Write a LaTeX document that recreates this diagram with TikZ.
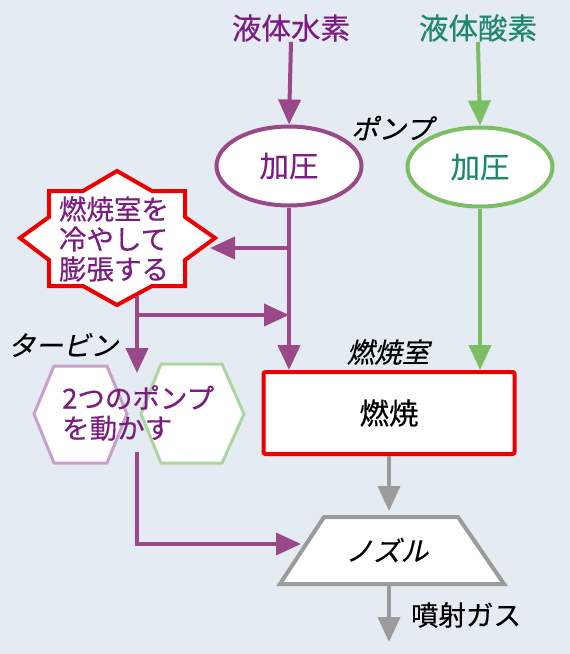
\documentclass[tikz,border=0pt]{standalone}
\usepackage{fontspec}
\setmainfont[FakeBold=0.4]{Noto Sans CJK JP}
\newfontfamily\jpslant[FakeSlant=0.22, FakeBold=0.4]{Noto Sans CJK JP}
\usetikzlibrary{arrows.meta, shapes.geometric}

\definecolor{bgblue}{RGB}{229,235,242}
\definecolor{hline}{RGB}{153,72,136}
\definecolor{htext}{RGB}{123,28,128}
\definecolor{oline}{RGB}{124,190,100}
\definecolor{otext}{RGB}{30,135,110}
\definecolor{hexh}{RGB}{200,160,200}
\definecolor{hexo}{RGB}{172,214,160}
\definecolor{nozgray}{RGB}{155,155,155}
\definecolor{hotred}{RGB}{236,0,0}

\begin{document}
\begin{tikzpicture}[x=1pt, y=-1pt,
    every node/.style={font=\fontsize{27.5}{30}\selectfont, inner sep=0pt},
    big/.style={font=\fontsize{29.5}{32}\selectfont},
    tip/.style={-{Triangle[width=22pt, length=25pt]}},
    hflow/.style={tip, line width=4pt, draw=hline},
    oflow/.style={tip, line width=4pt, draw=oline},
    gflow/.style={tip, line width=4pt, draw=nozgray},
    pump/.style={ellipse, big, fill=white, line width=4pt, minimum width=145pt, minimum height=79pt},
    tag/.style={font=\fontsize{27.5}{30}\jpslant}]
    \fill[bgblue] (0,0) rectangle (570,654);
    \useasboundingbox (0,0) rectangle (570,654);

    % tanks and pumps
    \node[big, text=htext] (lh2) at (291,28) {液体水素};
    \node[big, text=otext] (lox) at (478,28) {液体酸素};
    \node[pump, draw=hline, text=htext] (hpump) at (289,166) {加圧};
    \node[pump, draw=oline, text=otext] (opump) at (480,167) {加圧};
    \node[tag] (pumplbl) at (392,128) {ポンプ};

    % cooling jacket
    \draw[hotred, fill=white, line width=4pt, line join=miter]
        (117,171) -- (152,191) -- (185,191) -- (185,217) -- (215,238) -- (185,260)
        -- (185,286) -- (152,286) -- (117,305) -- (83,286) -- (49,286) -- (49,260)
        -- (20,238) -- (49,217) -- (49,191) -- (83,191) -- cycle;
    \node[text=htext, align=left] (cool) at (114,239) {燃焼室を\\冷やして\\膨張する};

    % turbine
    \draw[hexh, fill=white, line width=3pt] (34,414) -- (54,366) -- (107,366) -- (127,414)
        -- (107,463) -- (54,463) -- cycle;
    \draw[hexo, fill=white, line width=3pt] (141,414) -- (161,364) -- (222,364) -- (244,414)
        -- (222,463) -- (161,463) -- cycle;
    \node[text=htext, align=left, anchor=west] (turbine) at (62,413) {2つのポンプ\\を動かす};
    \node[tag] (turblbl) at (63,345) {タービン};

    % chamber and nozzle
    \node[big, draw=hotred, fill=white, line width=4pt, rounded corners=2pt,
        minimum width=251pt, minimum height=82pt] (burn) at (389,413) {燃焼};
    \node[tag] (burnlbl) at (388,352) {燃焼室};
    \draw[nozgray, fill=white, line width=4pt, line join=miter]
        (324,517) -- (458,517) -- (504,584) -- (280,584) -- cycle;
    \node[tag] (nozzle) at (387,550) {ノズル};
    \node (gaslbl) at (466,615) {噴射ガス};

    \coordinate (coolin) at (210,248);
    \coordinate (coolout) at (137,296);
    \coordinate (split) at (137,315);
    \coordinate (turbin) at (137,373);
    \coordinate (turbout) at (137,452);
    \coordinate (nozin) at (301,544);
    \coordinate (noztop) at (389,511);
    \coordinate (nozbot) at (389,586);
    \coordinate (exhaust) at (389,642);

    % connectors
    \draw[hflow] (lh2.south) -- (hpump.north);
    \draw[oflow] (lox.south) -- (opump.north);
    \draw[hflow] (hpump.south) -- (hpump.south |- burn.north);
    \draw[oflow] (opump.south) -- (opump.south |- burn.north);
    \draw[hflow] (hpump.south |- coolin) -- (coolin);
    \draw[hflow] (coolout) -- (turbin);
    \draw[hflow] (split) -- (split -| hpump.south);
    \draw[hflow] (turbout) |- (nozin);
    \draw[gflow] (burn.south) -- (noztop);
    \draw[gflow] (nozbot) -- (exhaust);
\end{tikzpicture}
\end{document}
